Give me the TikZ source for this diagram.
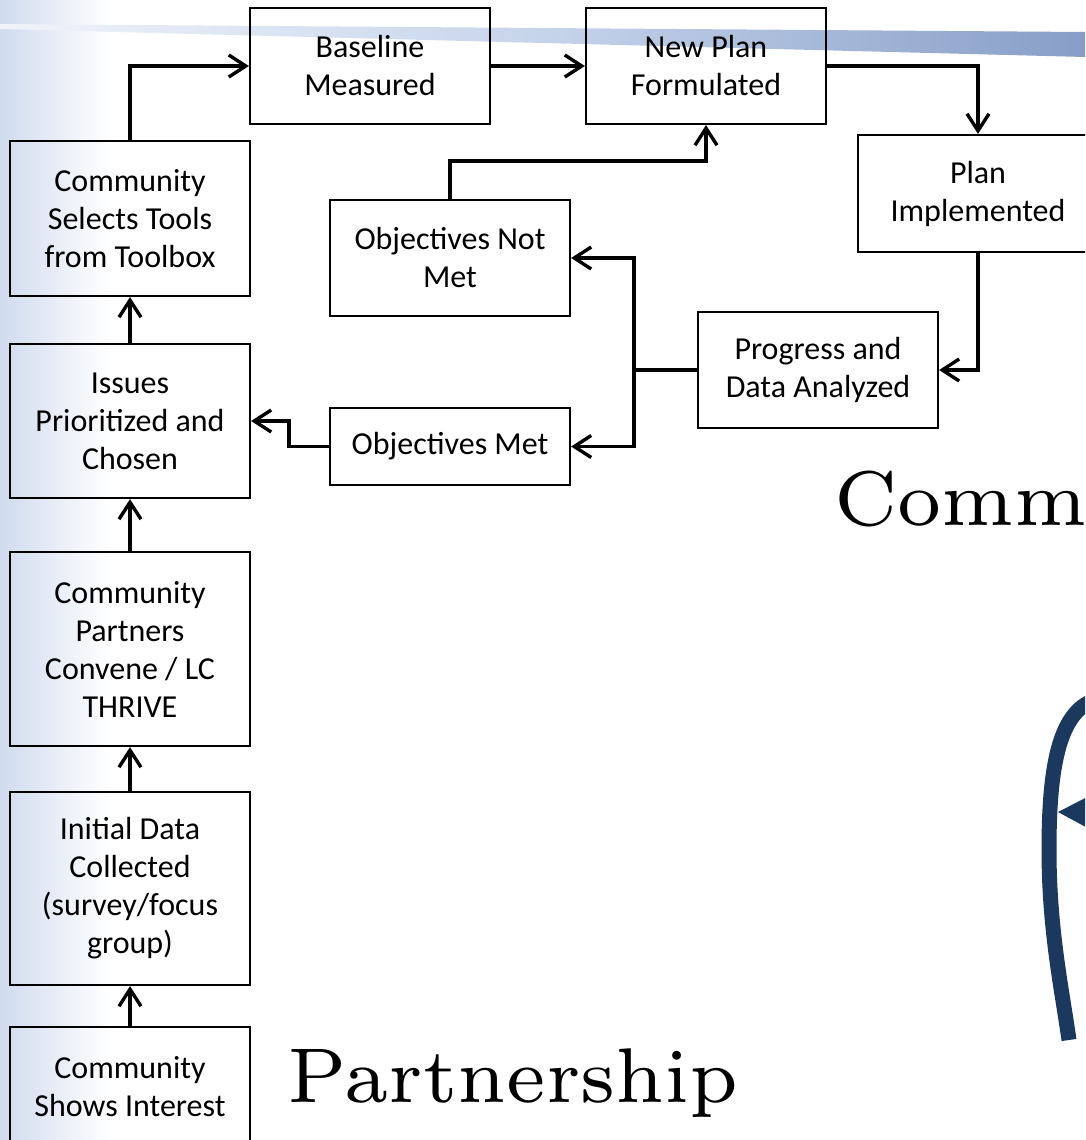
\documentclass[tikz,border=0pt]{standalone}
\usepackage{fontspec}
\newfontfamily\boxfont{Carlito}
\usetikzlibrary{arrows.meta}
\definecolor{navy}{RGB}{27,56,95}
\definecolor{sidebl}{RGB}{208,219,238}
\definecolor{bandl}{RGB}{240,244,250}
\definecolor{bandm}{RGB}{198,212,235}
\definecolor{bandr}{RGB}{136,158,199}
\tikzset{
  stepbox/.style={draw=black, line width=2.2pt, rectangle, inner sep=0pt,
    minimum width=240pt, align=center,
    font=\boxfont\fontsize{32}{38}\selectfont},
  conn/.style={draw=black, line width=3.4pt, -{Straight Barb[length=17pt,width=22pt,line width=3.4pt]}},
  plain/.style={draw=black, line width=3.4pt},
  bigtext/.style={inner sep=0pt, font=\fontsize{7}{8}\selectfont, scale=11.08, transform shape}
}
\begin{document}
\begin{tikzpicture}[x=1pt,y=-1pt]
\useasboundingbox (0,0) rectangle (1085,1140);
\clip (0,0) rectangle (1085,1140);
% left gradient
\shade[left color=sidebl, right color=white] (0,0) rectangle (110,1140);
% top band
\shade[left color=bandl, right color=bandr, middle color=bandm]
  (0,24) -- (1085,32) -- (1085,57) -- (0,29) -- cycle;
% boxes
\node[stepbox, minimum height=116pt] (base) at (370,66) {Baseline\\Measured};
\node[stepbox, minimum height=116pt] (newplan) at (706,66) {New Plan\\Formulated};
\node[stepbox, minimum height=117pt] (impl) at (978,193.5) {Plan\\Implemented};
\node[stepbox, minimum height=155pt] (select) at (130,218.5) {Community\\Selects Tools\\from Toolbox};
\node[stepbox, minimum height=154pt] (issues) at (130,421) {Issues\\Prioritized and\\Chosen};
\node[stepbox, minimum height=194pt] (partners) at (130,649) {Community\\Partners\\Convene / LC\\THRIVE};
\node[stepbox, minimum height=193pt] (initial) at (130,888.5) {Initial Data\\Collected\\(survey/focus\\group)};
\node[stepbox, minimum height=120pt] (interest) at (130,1087) {Community\\Shows Interest};
\node[stepbox, minimum height=116pt] (notmet) at (450,258) {Objectives Not\\Met};
\node[stepbox, minimum height=77pt] (met) at (450,446.5) {Objectives Met};
\node[stepbox, minimum height=116pt] (progress) at (818,370) {Progress and\\Data Analyzed};
\coordinate (br) at (634,370);
% connectors
\draw[conn] (select.north) |- (base.west);
\draw[conn] (base.east) -- (newplan.west);
\draw[conn] (newplan.east) -| (impl.north);
\draw[conn] (impl.south) |- (progress.east);
\draw[plain] (progress.west) -- (br);
\draw[conn] (br) |- (notmet.east);
\draw[conn] (br) |- (met.east);
\draw[conn] (notmet.north) -- ++(0,-38) -| (newplan.south);
\draw[conn] (met.west) -- ++(-40,0) |- (issues.east);
\draw[conn] (issues.north) -- (select.south);
\draw[conn] (partners.north) -- (issues.south);
\draw[conn] (initial.north) -- (partners.south);
\draw[conn] (interest.north) -- (initial.south);
% big texts
\node[bigtext, anchor=base west] (commtext) at (832,525) {Community};
\node[bigtext, anchor=base west] (parttext) at (285,1102) {Partnership};
% blue curve
\draw[navy, line width=15pt, line cap=butt]
  (1095,700) .. controls (1058,712) and (1049,770) .. (1049,850)
  .. controls (1049,930) and (1062,990) .. (1069,1040);
\fill[navy] (1058,812) -- (1095,793) -- (1095,832) -- cycle;
\end{tikzpicture}
\end{document}
